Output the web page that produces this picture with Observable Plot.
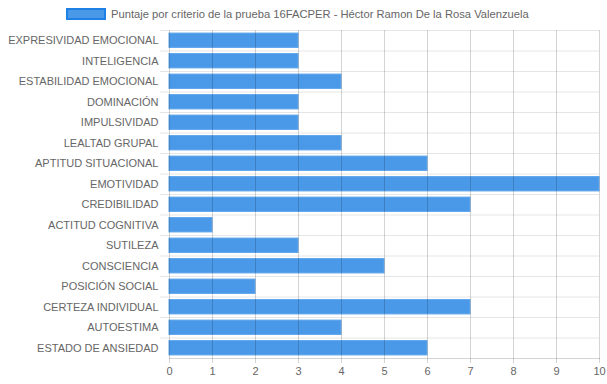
<!DOCTYPE html>
<html>
<head>
<meta charset="utf-8">
<script src="https://cdn.jsdelivr.net/npm/d3@7"></script>
<script src="https://cdn.jsdelivr.net/npm/@observablehq/plot@0.6"></script>
<style>
  html, body { margin: 0; padding: 0; background: #fff; }
  body { width: 607px; height: 384px; overflow: hidden; font-family: "Liberation Sans", Arial, sans-serif; }
  #legend { position: relative; height: 24px; }
  #legend .box { position: absolute; left: 66px; top: 8px; width: 36px; height: 8px; background: #4a99e8; border: 2px solid #1f80e6; }
  #legend .txt { position: absolute; left: 111px; top: 7px; font-size: 11.2px; line-height: 14px; color: #666; white-space: nowrap; }
  #chart svg { display: block; }
</style>
</head>
<body>
<div id="legend"><div class="box"></div><div class="txt"></div></div>
<div id="chart"></div>
<script>
const seriesName = "Puntaje por criterio de la prueba 16FACPER - Héctor Ramon De la Rosa Valenzuela";
const categories = [
  "EXPRESIVIDAD EMOCIONAL", "INTELIGENCIA", "ESTABILIDAD EMOCIONAL", "DOMINACIÓN",
  "IMPULSIVIDAD", "LEALTAD GRUPAL", "APTITUD SITUACIONAL", "EMOTIVIDAD",
  "CREDIBILIDAD", "ACTITUD COGNITIVA", "SUTILEZA", "CONSCIENCIA",
  "POSICIÓN SOCIAL", "CERTEZA INDIVIDUAL", "AUTOESTIMA", "ESTADO DE ANSIEDAD"
];
const values = [3, 3, 4, 3, 3, 4, 6, 10, 7, 1, 3, 5, 2, 7, 4, 6];
const xTicks = [0, 1, 2, 3, 4, 5, 6, 7, 8, 9, 10];

document.querySelector("#legend .txt").textContent = seriesName;

const data = categories.map((c, i) => ({category: c, value: values[i]}));

const W = 607, H = 360, mt = 6, mb = 26, ml = 169, mr = 8;
const step = (H - mt - mb) / categories.length;

const chart = Plot.plot({
  width: W, height: H,
  marginTop: mt, marginBottom: mb, marginLeft: ml, marginRight: mr,
  style: {fontFamily: "'Liberation Sans', Arial, sans-serif", fontSize: "11px", color: "#666", background: "#fff"},
  x: {domain: [0, 10], ticks: xTicks},
  y: {domain: categories, paddingInner: 0.3, paddingOuter: 0.15, round: false},
  marks: [
    Plot.ruleY(categories, {y: d => d, dy: -step / 2, insetLeft: -9, stroke: "#e6e6e6"}),
    Plot.barX(data, {y: "category", x: "value", fill: "#4a99e8", stroke: "#5fa6ec", strokeWidth: 1}),
    Plot.ruleX(xTicks, {x: d => d, insetBottom: -5, stroke: "#000", strokeOpacity: 0.17}),
    Plot.frame({anchor: "bottom", stroke: "#000", strokeOpacity: 0.17}),
    Plot.axisX({ticks: xTicks, tickSize: 0, tickPadding: 9, fill: "#666", fontSize: 11, label: null}),
    Plot.axisY({tickSize: 0, tickPadding: 11, fill: "#666", fontSize: 11, label: null})
  ]
});
document.getElementById("chart").appendChild(chart);
</script>
</body>
</html>
